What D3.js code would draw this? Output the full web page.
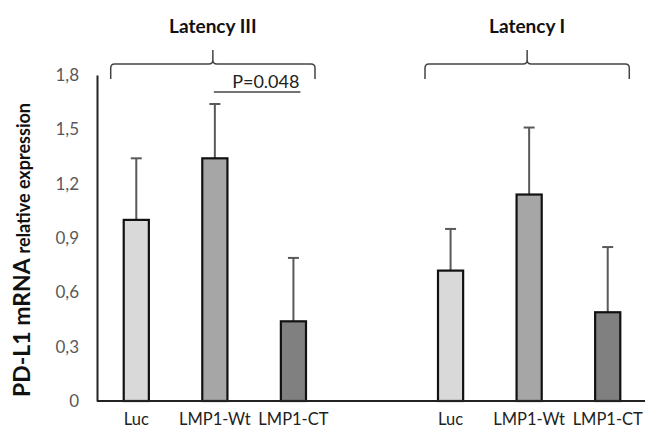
<!DOCTYPE html>
<html>
<head>
<meta charset="utf-8">
<script src="https://cdn.jsdelivr.net/npm/d3@7"></script>
<style>
  body { margin: 0; background: #fff; }
  svg { display: block; font-family: Lato, "Liberation Sans", sans-serif; }
</style>
</head>
<body>
<svg id="chart" width="645" height="429"></svg>
<script>
// data
const categories = ["Luc", "LMP1-Wt", "LMP1-CT", "", "Luc", "LMP1-Wt", "LMP1-CT"];
const means = [1.00, 1.34, 0.44, null, 0.72, 1.14, 0.49];
const errors = [0.34, 0.30, 0.35, null, 0.23, 0.37, 0.36];
const fills = ["#d9d9d9", "#a6a6a6", "#808080", null, "#d9d9d9", "#a6a6a6", "#808080"];
const yTicks = [0, 0.3, 0.6, 0.9, 1.2, 1.5, 1.8];
const groupNames = ["Latency III", "Latency I"];
const groupMembers = [[0, 2], [4, 6]];
const pValue = "P=0.048";

const svg = d3.select("#chart");

const marginLeft = 97;
const marginRight = 0;
const marginTop = 75;
const height = 429;
const width = 645;
const y0 = 401;

const xscale = d3.scaleBand()
    .domain(d3.range(categories.length))
    .range([marginLeft, width + 2 - marginRight])
    .paddingInner(0.68)
    .paddingOuter(0.34);

const yscale = d3.scaleLinear()
    .domain([0, 1.8])
    .range([y0, marginTop]);

// y axis
const yAxis = d3.axisLeft(yscale)
    .tickValues(yTicks)
    .tickSize(0)
    .tickPadding(18)
    .tickFormat(d => d === 0 ? "0" : d3.format(".1f")(d).replace(".", ","));

svg.append("g")
    .attr("transform", `translate(${marginLeft},0)`)
    .call(yAxis)
    .call(g => g.select(".domain").attr("stroke", "#222").attr("stroke-width", 2))
    .call(g => g.selectAll("text").attr("fill", "#595959").attr("font-size", 17)
          .attr("font-family", "Lato, sans-serif"));

// bars
const idx = d3.range(categories.length).filter(i => means[i] !== null);

// error bars (drawn before bars so the bar covers the stem)
const eb = svg.append("g");
eb.selectAll("line.stem")
    .data(idx)
    .join("line")
    .attr("x1", i => xscale(i) + xscale.bandwidth() / 2)
    .attr("x2", i => xscale(i) + xscale.bandwidth() / 2)
    .attr("y1", i => yscale(means[i]))
    .attr("y2", i => yscale(means[i] + errors[i]))
    .attr("stroke", "#595959")
    .attr("stroke-width", 2);
eb.selectAll("line.cap")
    .data(idx)
    .join("line")
    .attr("x1", i => xscale(i) + xscale.bandwidth() / 2 - 5.5)
    .attr("x2", i => xscale(i) + xscale.bandwidth() / 2 + 5.5)
    .attr("y1", i => yscale(means[i] + errors[i]))
    .attr("y2", i => yscale(means[i] + errors[i]))
    .attr("stroke", "#595959")
    .attr("stroke-width", 2);

svg.append("g").selectAll("rect")
    .data(idx)
    .join("rect")
    .attr("x", i => xscale(i))
    .attr("y", i => yscale(means[i]))
    .attr("width", xscale.bandwidth())
    .attr("height", i => yscale(0) - yscale(means[i]))
    .attr("fill", i => fills[i])
    .attr("stroke", "#111")
    .attr("stroke-width", 2.2);

// x axis
const xAxis = d3.axisBottom(xscale)
    .tickSize(0)
    .tickPadding(12)
    .tickFormat(i => categories[i]);

svg.append("g")
    .attr("transform", `translate(0,${y0})`)
    .call(xAxis)
    .call(g => g.select(".domain").attr("stroke", "#222").attr("stroke-width", 2)
          .attr("d", `M${marginLeft},0H${width}`))
    .call(g => g.selectAll("text").attr("fill", "#222").attr("font-size", 16.5)
          .attr("font-family", "Lato, sans-serif"));

// braces with group labels
function bracePath(x1, x2, yTop, yEnd, yTip) {
    const xm = (x1 + x2) / 2;
    const r = 4;
    return `M${x1},${yEnd} L${x1},${yTop + r} Q${x1},${yTop} ${x1 + r},${yTop}` +
        ` L${xm - r},${yTop} Q${xm},${yTop} ${xm},${yTop - r} L${xm},${yTip}` +
        ` M${xm},${yTop - r} Q${xm},${yTop} ${xm + r},${yTop}` +
        ` L${x2 - r},${yTop} Q${x2},${yTop} ${x2},${yTop + r} L${x2},${yEnd}`;
}

const braces = svg.append("g");
groupNames.forEach((name, k) => {
    const [a, b] = groupMembers[k];
    const x1 = xscale(a) - 13;
    const x2 = xscale(b) + xscale.bandwidth() + 9;
    braces.append("path")
        .attr("d", bracePath(x1, x2, 64, 79, 50))
        .attr("fill", "none")
        .attr("stroke", "#444")
        .attr("stroke-width", 1.5);
    braces.append("text")
        .attr("x", (x1 + x2) / 2)
        .attr("y", 33)
        .attr("text-anchor", "middle")
        .attr("font-size", 19)
        .attr("font-weight", "bold")
        .attr("fill", "#111")
        .text(name);
});

// significance line
const sx1 = xscale(1) + xscale.bandwidth() / 2 - 1;
const sx2 = xscale(2) + xscale.bandwidth() / 2 + 7;
svg.append("line")
    .attr("x1", sx1).attr("x2", sx2)
    .attr("y1", 92).attr("y2", 92)
    .attr("stroke", "#444").attr("stroke-width", 1.5);
svg.append("text")
    .attr("x", sx2 - 1)
    .attr("y", 88)
    .attr("text-anchor", "end")
    .attr("font-size", 18)
    .attr("fill", "#222")
    .text(pValue);

// y axis title
const yt = svg.append("text")
    .attr("transform", `translate(30,${(y0 + marginTop) / 2 + 12}) rotate(-90)`)
    .attr("text-anchor", "middle")
    .attr("font-weight", "bold")
    .attr("fill", "#111");
yt.append("tspan").attr("font-size", 23).text("PD-L1 mRNA ");
yt.append("tspan").attr("font-size", 18).text("relative expression");
</script>
</body>
</html>
